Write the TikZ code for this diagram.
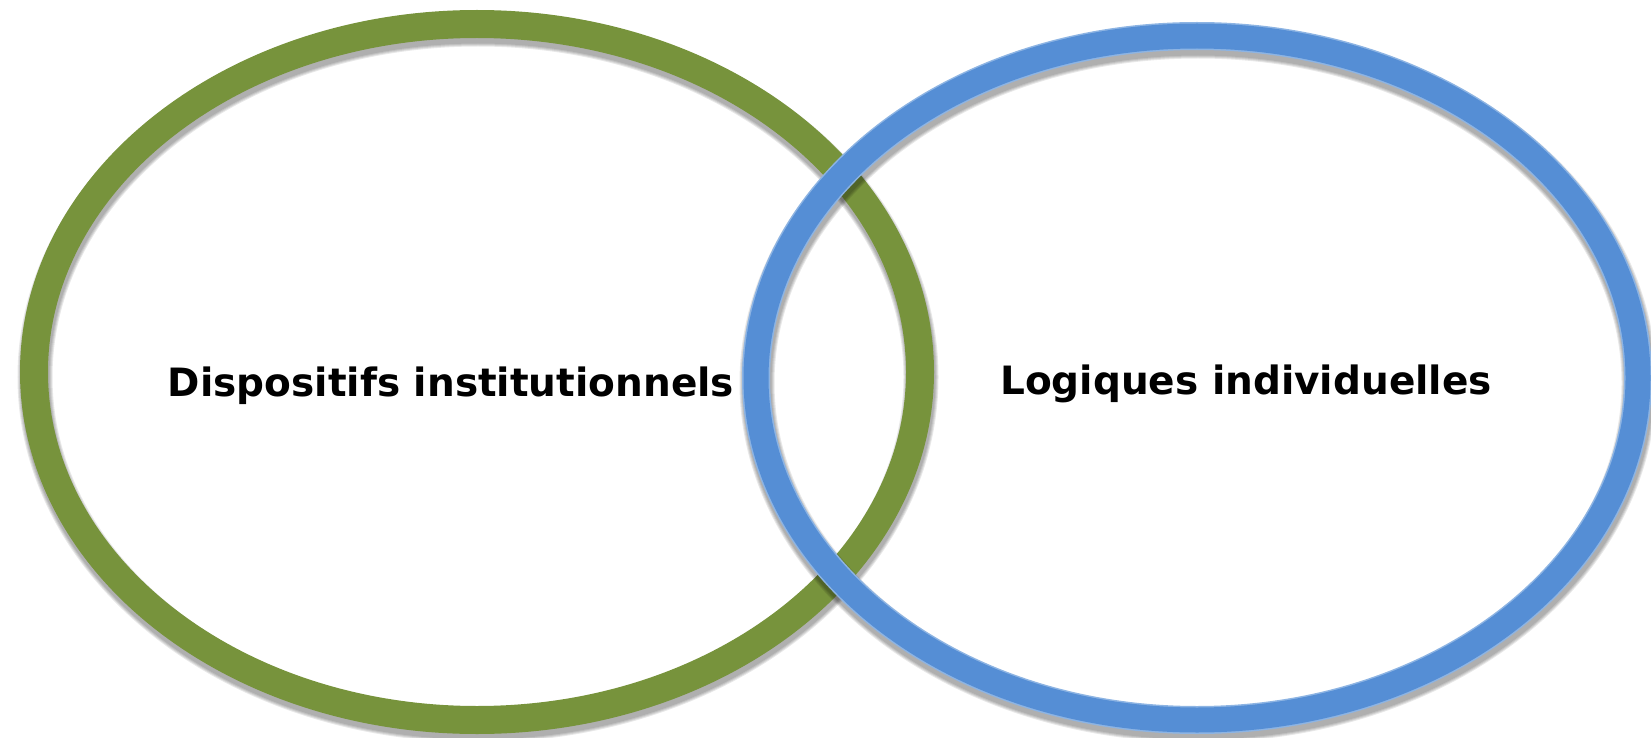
\documentclass[tikz,border=0pt]{standalone}
\usepackage{fontspec}
\setmainfont{DejaVu Sans}
\definecolor{ringgreen}{HTML}{77933C}
\definecolor{ringblue}{HTML}{558ED5}
\definecolor{ringblueedge}{HTML}{8DB4E3}
\begin{document}
\begin{tikzpicture}[x=1pt,y=-1pt,
  ring/.style={line width=28pt},
  shadowring/.style={draw=black,draw opacity=0.09},
  label/.style={font=\fontsize{39}{47}\selectfont\bfseries,inner sep=0pt,anchor=base}]
\useasboundingbox (0,0) rectangle (1651,738);
% green ring shadow
\foreach \w in {35,33,31,29}{
  \draw[shadowring,line width=\w pt] (478,377) ellipse [x radius=443,y radius=348];
}
\draw[ring,draw=ringgreen] (477,372) ellipse [x radius=443,y radius=348];
% blue ring shadow
\foreach \w in {35,33,31,29}{
  \draw[shadowring,line width=\w pt] (1198,383) ellipse [x radius=441,y radius=342];
}
\draw[ring,draw=ringblueedge] (1197,378) ellipse [x radius=441,y radius=342];
\draw[line width=25pt,draw=ringblue] (1197,378) ellipse [x radius=441,y radius=342];
\node[label] (disp) at (451,396) {Dispositifs institutionnels};
\node[label] (logi) at (1246,394) {Logiques individuelles};
\end{tikzpicture}
\end{document}
